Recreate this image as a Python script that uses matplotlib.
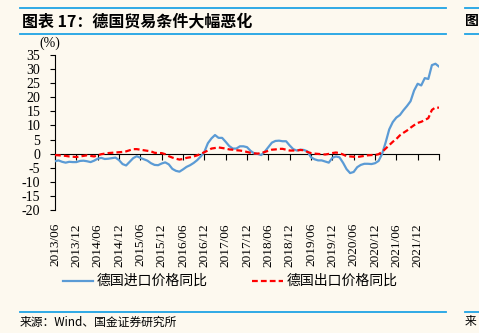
import numpy as np
import matplotlib
matplotlib.use("Agg")
import matplotlib.pyplot as plt
from matplotlib.lines import Line2D

# monthly data, 2013/06 .. 2022/06
import_yoy = [-2.7, -2.4, -2.9, -3.2, -2.9, -3.0, -3.0, -2.6, -2.5, -2.7,
              -3.0, -2.5, -1.8, -1.5, -1.9, -1.8, -1.6, -1.4, -2.3, -3.7,
              -4.2, -2.9, -1.6, -0.9, -1.5, -2.0, -2.5, -3.4, -4.0, -4.1,
              -3.5, -3.1, -3.8, -5.4, -6.1, -6.4, -5.6, -4.7, -4.1, -3.3,
              -2.3, -1.0, 0.6, 3.7, 5.4, 6.6, 5.6, 5.6, 4.2, 2.7,
              1.8, 1.8, 2.6, 2.6, 2.3, 1.0, 0.1, -0.1, -0.5, 0.7,
              2.3, 3.9, 4.5, 4.6, 4.4, 4.4, 2.9, 1.6, 1.1, 1.4,
              1.3, 0.8, -1.3, -2.0, -2.4, -2.4, -2.8, -3.2, -1.5, -1.0,
              -1.3, -3.2, -5.5, -6.9, -6.5, -4.8, -4.0, -3.6, -3.6, -3.7,
              -3.4, -2.6, -0.1, 4.0, 8.6, 11.2, 12.8, 13.7, 15.4, 16.9,
              18.6, 22.4, 24.8, 24.2, 26.8, 26.5, 31.4, 31.9, 30.9]
export_yoy = [-0.5, -0.6, -0.7, -0.8, -1.0, -1.1, -1.2, -1.0, -0.8, -0.6,
              -0.8, -1.0, -0.6, -0.2, 0.0, 0.2, 0.3, 0.4, 0.5, 0.6,
              0.8, 1.2, 1.6, 1.6, 1.4, 1.2, 1.0, 0.8, 0.3, 0.2,
              0.2, -0.2, -0.9, -1.4, -1.8, -2.1, -1.9, -1.5, -1.3, -1.0,
              -0.6, -0.1, 0.5, 1.1, 1.8, 2.0, 2.2, 2.0, 1.8, 1.5,
              1.4, 1.2, 1.1, 0.9, 0.6, 0.3, 0.1, 0.0, 0.2, 0.6,
              1.0, 1.4, 1.5, 1.7, 1.7, 1.4, 1.1, 1.1, 1.1, 1.3,
              1.2, 0.6, 0.2, 0.0, -0.1, -0.2, -0.3, -0.1, 0.2, 0.4,
              0.2, -0.3, -0.9, -1.0, -1.1, -1.2, -1.0, -0.8, -0.6, -0.5,
              -0.5, -0.2, 0.6, 1.8, 3.0, 4.2, 5.2, 6.5, 7.4, 8.2,
              9.2, 10.1, 10.9, 11.3, 11.9, 12.6, 15.5, 16.4, 16.3]
tick_labels = ["2013/06", "2013/12", "2014/06", "2014/12", "2015/06", "2015/12",
               "2016/06", "2016/12", "2017/06", "2017/12", "2018/06", "2018/12",
               "2019/06", "2019/12", "2020/06", "2020/12", "2021/06", "2021/12", ""]
yticks = list(range(-20, 40, 5))

bg = "#fdf9ef"
frame_blue = "#1fa3e4"
cjk = ["Noto Sans CJK SC", "DejaVu Sans"]
serif = "Liberation Serif"

fig = plt.figure(figsize=(4.79, 3.33), dpi=100, facecolor=bg)
ax = fig.add_axes([55/479, 1-210/333, (439-55)/479, 155/333])
ax.set_facecolor(bg)

m = np.arange(len(import_yoy))
ax.plot(m, import_yoy, color="#5b9bd5", lw=1.6, zorder=3)
ax.plot(m, export_yoy, color="#ff0000", lw=1.6, ls=(0, (2.6, 1.4)), zorder=4)

# spine position first, it resets the ticks
for s in ["top", "right"]:
    ax.spines[s].set_visible(False)
ax.spines["bottom"].set_position(("data", 0))
ax.spines["left"].set_linewidth(0.8)
ax.spines["bottom"].set_linewidth(0.8)

ax.set_xlim(0, 108)
ax.set_ylim(-20, 35)
ax.set_yticks(yticks)
ax.set_yticklabels([str(v) for v in yticks], fontfamily=serif, fontsize=10)
ax.set_xticks(np.arange(0, 109, 6))
ax.set_xticklabels(tick_labels, rotation=90, fontfamily=serif, fontsize=9.5, va="top")
ax.tick_params(axis="y", direction="out", length=3.5, width=0.8, pad=7)
ax.tick_params(axis="x", direction="out", length=4, width=0.8, pad=46)
ax.text(-1.5, 36.8, "(%)", fontfamily=serif, fontsize=10, ha="center", va="bottom")

# title block
for y in [8, 34, 312]:
    fig.add_artist(Line2D([20/479, 446/479], [1-y/333]*2, color=frame_blue, lw=1.3))
    fig.add_artist(Line2D([465/479, 1], [1-y/333]*2, color=frame_blue, lw=1.3))
fig.text(22/479, 1-21/333, "图表 17：德国贸易条件大幅恶化", family=cjk, fontsize=11.5,
         fontweight="bold", style="italic", va="center")
fig.text(465/479, 1-21/333, "图", family=cjk, fontsize=10, fontweight="bold", va="center")
fig.text(20/479, 1-322/333, "来源：Wind、国金证券研究所", family=cjk, fontsize=8.5, va="center")
fig.text(465/479, 1-322/333, "来", family=cjk, fontsize=8.5, va="center")

# legend
fig.add_artist(Line2D([63/479, 93/479], [1-281/333]*2, color="#5b9bd5", lw=1.6))
fig.text(97/479, 1-281/333, "德国进口价格同比", family=cjk, fontsize=10, va="center")
fig.add_artist(Line2D([252/479, 283/479], [1-281/333]*2, color="#ff0000", lw=1.6,
                      ls=(0, (2.6, 1.4))))
fig.text(287/479, 1-281/333, "德国出口价格同比", family=cjk, fontsize=10, va="center")

fig.savefig("out.png", dpi=100, facecolor=bg)
